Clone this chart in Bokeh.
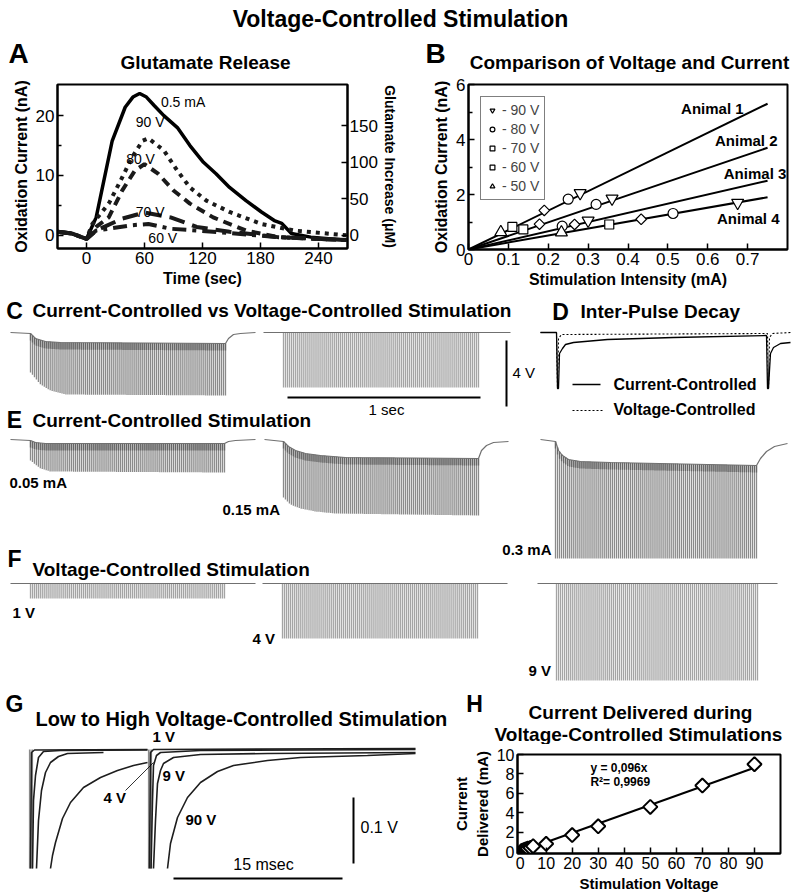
import numpy as np
from bokeh.plotting import figure
from bokeh.layouts import column, row
from bokeh.models import (Range1d, LinearAxis, Label, Legend, LegendItem,
                          FixedTicker, CustomJSTickFormatter)
from bokeh.embed import file_html
from bokeh.resources import INLINE

FONT = "Liberation Sans"

# ======================= DATA =======================
# Panel A - oxidation current (nA) vs time (s)
a_time_05mA = [-30, -15, 0, 10, 16.5, 26.6, 40, 48, 55, 62, 70, 80, 94, 107, 121, 134, 148, 165, 181, 195, 202, 212, 232, 269]
a_curr_05mA = [0.6, 0.3, -0.6, 3.0, 8.0, 15.8, 21.4, 23.1, 23.7, 23.1, 21.7, 20.0, 18.0, 15.0, 12.2, 10.3, 8.0, 5.8, 3.9, 2.4, 2.0, 0.3, -0.3, -0.8]
a_time_90V = [-30, -15, 0, 6, 23, 37, 47, 58, 64, 80, 94, 107, 124, 148, 181, 215, 269]
a_curr_90V = [0.6, 0.3, -0.6, 1.9, 5.3, 9.7, 13.0, 15.8, 16.2, 14.2, 10.8, 8.0, 5.8, 3.9, 1.9, 0.8, 0.0]
a_time_80V = [-30, -15, 0, 10, 23, 37, 50, 60, 74, 90, 107, 131, 165, 198, 269]
a_curr_80V = [0.6, 0.3, -0.6, 1.4, 3.0, 7.5, 10.8, 11.9, 10.3, 7.5, 5.3, 3.0, 0.8, -0.3, -0.8]
a_time_70V = [-30, -15, 0, 10, 37, 60, 87, 114, 148, 198, 269]
a_curr_70V = [0.6, 0.3, -0.6, 0.8, 2.8, 3.8, 3.0, 1.4, 0.6, -0.3, -0.8]
a_time_60V = [-30, -15, 0, 10, 48, 64, 87, 131, 198, 269]
a_curr_60V = [0.6, 0.3, -0.6, 0.8, 1.7, 1.9, 1.1, 0.6, -0.3, -0.8]
a_um_per_na = 8.2
a_x_ticks = [0, 60, 120, 180, 240]
a_y_ticks = [0, 10, 20]
a_glu_ticks = [0, 50, 100, 150]

# Panel B - oxidation current (nA) vs stimulation intensity (mA)
b_animals = ["Animal 1", "Animal 2", "Animal 3", "Animal 4"]
b_fit_end_x = [0.75, 0.75, 0.75, 0.75]
b_fit_end_y = [5.3, 3.7, 2.5, 1.9]
b_90V_x = [0.28, 0.36, 0.30, 0.675]
b_90V_y = [2.05, 1.85, 1.05, 1.70]
b_80V_x = [0.25, 0.32, 0.235, 0.513]
b_80V_y = [1.83, 1.64, 0.85, 1.31]
b_70V_x = [0.19, 0.178, 0.266, 0.433]
b_70V_y = [1.42, 0.92, 0.91, 1.10]
b_60V_x = [0.11, 0.1375, 0.353]
b_60V_y = [0.82, 0.73, 0.91]
b_50V_x = [0.081, 0.233]
b_50V_y = [0.63, 0.62]
b_x_ticks = [0, 0.1, 0.2, 0.3, 0.4, 0.5, 0.6, 0.7]
b_y_ticks = [0, 2, 4, 6]

# Panel H - current delivered (mA) vs stimulation voltage (V)
h_voltage = [0.5, 1, 1.5, 2, 2.5, 3, 4, 5, 10, 20, 30, 50, 70, 90]
h_current = [0.05, 0.1, 0.15, 0.2, 0.25, 0.3, 0.4, 0.55, 0.8, 1.7, 2.6, 4.6, 6.8, 9.0]
h_fit_slope = 0.096
h_fit_x = [0, 90]
h_x_ticks = [0, 10, 20, 30, 40, 50, 60, 70, 80, 90]
h_y_ticks = [0, 2, 4, 6, 8, 10]

# Trace panels C-G (canvas units = picture pixels, y grows downward), 100 pulses per 1 s train
N_PULSES = 100
# C: current-controlled (left) and voltage-controlled (right)
c_cc_line_x = [10, 30, 35, 45, 60, 225, 228, 233, 240, 255]
c_cc_line_y = [332, 333, 338, 341, 342, 343, 338, 334, 333, 332]
c_cc_span = [30, 225]
c_cc_bot_x = [30, 40, 50, 65, 225]
c_cc_bot_y = [372, 384, 390, 394, 395]
c_vc_line_x = [263, 510]
c_vc_line_y = [332, 332]
c_vc_span = [283, 478]
c_vc_bot_y = [387, 387]
# D: inter-pulse decay
d_cc_x = [540, 556, 557, 558, 559, 562, 565, 573, 607, 673, 766, 767, 768, 769, 770, 773, 780, 790]
d_cc_y = [332, 332, 388, 388, 353, 348, 344, 342, 339, 337, 335, 388, 388, 370, 353, 347, 343, 342]
d_vc_x = [540, 556, 557, 558, 561, 767, 768, 769, 772, 790]
d_vc_y = [332, 332, 388, 338, 334, 333, 388, 337, 333, 332]
# E: current-controlled stimulation at 0.05, 0.15, 0.3 mA
e1_line_x = [10, 30, 35, 45, 224, 228, 235, 255]
e1_line_y = [439, 440, 442, 443, 443, 441, 440, 439]
e1_span = [30, 224]
e1_bot_x = [30, 40, 50, 224]
e1_bot_y = [460, 468, 471, 472]
e2_line_x = [264, 283, 288, 295, 305, 320, 345, 478, 481, 486, 493, 508]
e2_line_y = [439, 441, 446, 450, 453, 455, 457, 458, 450, 445, 442, 441]
e2_span = [283, 478]
e2_bot_x = [283, 290, 300, 315, 335, 478]
e2_bot_y = [497, 504, 508, 511, 513, 515]
e3_line_x = [540, 555, 558, 562, 568, 580, 610, 756, 760, 766, 774, 787]
e3_line_y = [439, 441, 450, 455, 459, 461, 462, 465, 458, 451, 446, 443]
e3_span = [555, 756]
e3_bot_x = [555, 756]
e3_bot_y = [558, 558]
# F: voltage-controlled stimulation at 1, 4, 9 V
f1_line_x = [10, 255]
f1_span = [30, 224]
f1_depth = 598
f2_line_x = [262, 507]
f2_span = [282, 477]
f2_depth = 638
f3_line_x = [537, 777]
f3_span = [556, 757]
f3_depth = 680
f_base = 583

# G: low to high voltage pulses (two pulses, recovery traces for 1, 4, 9, 90 V)
g_spike_x = [29, 30.5, 32, 148, 149.5, 151]
g_spike_top = 749
g_spike_bot = 868
g_1V_L_x = [30, 31, 34, 147]
g_1V_L_y = [868, 752, 749.5, 749]
g_4V_L_x = [32, 33, 35, 38, 43, 60, 147]
g_4V_L_y = [868, 800, 775, 757, 751, 750, 749.5]
g_9V_L_x = [36, 38, 41, 45, 50, 58, 67, 103]
g_9V_L_y = [868, 820, 790, 772, 762, 756, 753, 752]
g_90V_L_x = [50, 52, 55, 62, 70, 83, 100, 117, 133, 147]
g_90V_L_y = [868, 855, 842, 818, 802, 787, 777, 770, 765, 762]
g_1V_R_x = [149, 150, 153, 415]
g_1V_R_y = [868, 752, 749, 748]
g_4V_R_x = [150.5, 152, 153, 156, 160, 200, 415]
g_4V_R_y = [868, 800, 765, 755, 752, 750, 749]
g_9V_R_x = [153, 155, 157, 160, 163, 173, 200, 267, 415]
g_9V_R_y = [868, 820, 783, 770, 763, 757, 754, 753, 752]
g_90V_R_x = [167, 170, 177, 187, 200, 217, 233, 267, 300, 333, 367, 415]
g_90V_R_y = [868, 843, 817, 797, 782, 771, 765, 760, 757, 756, 755, 753]


# ======================= HELPERS =======================
def txt(p, x, y, text, size, bold=True, align="left", baseline="middle"):
    p.add_layout(Label(x=x, y=y, text=text, text_font=FONT, text_font_size=f"{size}px",
                       text_font_style="bold" if bold else "normal", text_align=align,
                       text_baseline=baseline, text_color="black"))


def style_axes(p, tick_size, label_size):
    for ax in p.axis:
        ax.axis_line_width = 2
        ax.axis_line_color = "black"
        ax.major_tick_in = 6
        ax.major_tick_out = 0
        ax.minor_tick_in = 4
        ax.minor_tick_out = 0
        ax.major_tick_line_width = 1.5
        ax.minor_tick_line_width = 1.5
        ax.major_label_text_font = FONT
        ax.major_label_text_font_size = f"{tick_size}px"
        ax.major_label_text_color = "black"
        ax.major_label_standoff = 3
        ax.axis_label_text_font = FONT
        ax.axis_label_text_font_style = "bold"
        ax.axis_label_text_font_size = f"{label_size}px"
        ax.axis_label_text_color = "black"
        ax.axis_label_standoff = 3
    p.outline_line_color = "black"
    p.outline_line_width = 2
    p.grid.visible = False


def canvas(w, h, xr, yr):
    p = figure(width=w, height=h, x_range=Range1d(*xr), y_range=Range1d(*yr),
               x_axis_location=None, y_axis_location=None, output_backend="svg",
               toolbar_location=None, min_border=0)
    p.outline_line_color = None
    p.grid.visible = False
    return p


def train(p, line_x, line_y, span, bot_x, bot_y, pulse_color, band_color=None):
    px = np.linspace(span[0], span[1], N_PULSES)
    top = np.interp(px, line_x, line_y)
    bot = np.interp(px, bot_x, bot_y)
    p.segment(px, top, px, bot, line_color=pulse_color, line_width=1.3)
    if band_color:
        p.segment(px, top, px, top + 7, line_color=band_color, line_width=1.3)
    p.line(line_x, line_y, line_color="#707070", line_width=1.2)


W = 800

# ======================= TOP STRIP: main title + panel A/B titles =======================
pT = canvas(W, 72, (0, 800), (72, 0))
txt(pT, 400, 18, "Voltage-Controlled Stimulation", 23, align="center")
txt(pT, 18, 53, "A", 28, align="center")
txt(pT, 205, 62, "Glutamate Release", 19, align="center")
txt(pT, 435, 53, "B", 28, align="center")
txt(pT, 629, 62, "Comparison of Voltage and Current", 19, align="center")

# ======================= PANEL A =======================
pA = figure(width=400, height=220, x_range=Range1d(-30, 270), y_range=Range1d(-2.2, 25.2),
            output_backend="svg", toolbar_location=None,
            min_border_left=57, min_border_right=47, min_border_top=12, min_border_bottom=44)
pA.extra_y_ranges = {"glu": Range1d(-2.2 * a_um_per_na, 25.2 * a_um_per_na)}
pA.add_layout(LinearAxis(y_range_name="glu", axis_label="Glutamate Increase (μM)",
                         ticker=FixedTicker(ticks=a_glu_ticks)), "right")
pA.xaxis.ticker = FixedTicker(ticks=a_x_ticks)
pA.yaxis[0].ticker = FixedTicker(ticks=a_y_ticks, minor_ticks=[5, 15])
pA.xaxis.axis_label = "Time (sec)"
pA.yaxis[0].axis_label = "Oxidation Current (nA)"
style_axes(pA, 17, 16)
pA.yaxis[1].axis_label_standoff = 1
pA.yaxis[1].major_label_standoff = 2
pA.yaxis[1].axis_label_text_font_size = "14px"
pA.line(a_time_05mA, a_curr_05mA, line_color="black", line_width=3.5)
pA.line(a_time_90V, a_curr_90V, line_color="#1a1a1a", line_width=4, line_dash="4 5")
pA.line(a_time_80V, a_curr_80V, line_color="#1a1a1a", line_width=4, line_dash="9 6")
pA.line(a_time_70V, a_curr_70V, line_color="#1a1a1a", line_width=4, line_dash="16 8")
pA.line(a_time_60V, a_curr_60V, line_color="#1a1a1a", line_width=4, line_dash="14 6 4 6")
txt(pA, 77, 22.2, "0.5 mA", 14, bold=False)
txt(pA, 51, 18.9, "90 V", 14, bold=False)
txt(pA, 41, 12.8, "80 V", 14, bold=False)
txt(pA, 51, 3.9, "70 V", 14, bold=False)
txt(pA, 64, -0.4, "60 V", 14, bold=False)

# ======================= PANEL B =======================
pB = figure(width=400, height=220, x_range=Range1d(0, 0.8), y_range=Range1d(0, 6),
            output_backend="svg", toolbar_location=None,
            min_border_left=68, min_border_right=13, min_border_top=12, min_border_bottom=43)
pB.xaxis.ticker = FixedTicker(ticks=b_x_ticks)
pB.xaxis.formatter = CustomJSTickFormatter(code="return tick == 0 ? '0' : tick.toFixed(1);")
pB.yaxis.ticker = FixedTicker(ticks=b_y_ticks, minor_ticks=[1, 3, 5])
pB.xaxis.axis_label = "Stimulation Intensity (mA)"
pB.yaxis.axis_label = "Oxidation Current (nA)"
style_axes(pB, 17, 16)
pB.multi_line(xs=[[0, ex] for ex in b_fit_end_x], ys=[[0, ey] for ey in b_fit_end_y],
              line_color="black", line_width=2)
mk = dict(fill_color="white", line_color="black", line_width=1.2)
r90 = pB.scatter(b_90V_x, b_90V_y, marker="inverted_triangle", size=12, **mk)
r80 = pB.scatter(b_80V_x, b_80V_y, marker="circle", size=10, **mk)
r70 = pB.scatter(b_70V_x, b_70V_y, marker="square", angle=np.pi / 4, size=7.5, **mk)
r60 = pB.scatter(b_60V_x, b_60V_y, marker="square", size=9, **mk)
r50 = pB.scatter(b_50V_x, b_50V_y, marker="triangle", size=12, **mk)
leg = Legend(items=[LegendItem(label="- 90 V", renderers=[r90]),
                    LegendItem(label="- 80 V", renderers=[r80]),
                    LegendItem(label="- 70 V", renderers=[r70]),
                    LegendItem(label="- 60 V", renderers=[r60]),
                    LegendItem(label="- 50 V", renderers=[r50])],
             location="top_left", margin=12, padding=5, spacing=3,
             glyph_width=12, glyph_height=14, label_height=14, label_standoff=4,
             label_text_font=FONT, label_text_font_size="14px",
             border_line_color="black", border_line_width=1.5)
pB.add_layout(leg)
for name, lx, ly in zip(b_animals, [0.69, 0.775, 0.797, 0.78], [5.13, 3.96, 2.76, 1.13]):
    txt(pB, lx, ly, name, 15, align="right")

# ======================= PANELS C-F (+ G/H headings) =======================
pM = canvas(W, 452, (0, 800), (744, 292))
CC_COL, CC_BAND, VC_COL = "#8a8a8a", "#666666", "#a4a4a4"
# C
txt(pM, 14, 310, "C", 23, align="center")
txt(pM, 32, 310, "Current-Controlled vs Voltage-Controlled Stimulation", 19)
train(pM, c_cc_line_x, c_cc_line_y, c_cc_span, c_cc_bot_x, c_cc_bot_y, CC_COL, CC_BAND)
train(pM, c_vc_line_x, c_vc_line_y, c_vc_span, c_vc_span, c_vc_bot_y, VC_COL)
pM.line([506, 506], [340, 406], line_color="black", line_width=2)
pM.line([287, 480], [397, 397], line_color="black", line_width=2)
txt(pM, 512, 372, "4 V", 15, bold=False)
txt(pM, 386, 409, "1 sec", 15, bold=False, align="center")
# D
txt(pM, 560, 311, "D", 23, align="center")
txt(pM, 580, 311, "Inter-Pulse Decay", 19)
pM.line(d_cc_x, d_cc_y, line_color="black", line_width=1.3)
pM.line(d_vc_x, d_vc_y, line_color="black", line_width=1.1, line_dash="2 2")
pM.line([572, 600], [384, 384], line_color="black", line_width=1.3)
pM.line([572, 602], [410, 410], line_color="black", line_width=1.1, line_dash="2 2")
txt(pM, 613, 384, "Current-Controlled", 16)
txt(pM, 613, 409, "Voltage-Controlled", 16)
# E
txt(pM, 14, 419, "E", 23, align="center")
txt(pM, 32, 420, "Current-Controlled Stimulation", 19)
train(pM, e1_line_x, e1_line_y, e1_span, e1_bot_x, e1_bot_y, CC_COL, CC_BAND)
train(pM, e2_line_x, e2_line_y, e2_span, e2_bot_x, e2_bot_y, CC_COL, CC_BAND)
train(pM, e3_line_x, e3_line_y, e3_span, e3_bot_x, e3_bot_y, CC_COL, CC_BAND)
txt(pM, 9, 482, "0.05 mA", 15)
txt(pM, 222, 509, "0.15 mA", 15)
txt(pM, 551, 549, "0.3 mA", 15, align="right")
# F
txt(pM, 14, 558, "F", 23, align="center")
txt(pM, 32, 569, "Voltage-Controlled Stimulation", 19)
for lx, sp, dp in [(f1_line_x, f1_span, f1_depth), (f2_line_x, f2_span, f2_depth), (f3_line_x, f3_span, f3_depth)]:
    train(pM, lx, [f_base, f_base], sp, sp, [dp, dp], VC_COL)
txt(pM, 12, 612, "1 V", 15)
txt(pM, 252, 638, "4 V", 15)
txt(pM, 528, 670, "9 V", 15)
# G / H headings
txt(pM, 14, 703, "G", 23, align="center")
txt(pM, 35, 718, "Low to High Voltage-Controlled Stimulation", 20)
txt(pM, 152, 736, "1 V", 15)
txt(pM, 474, 703, "H", 23, align="center")
txt(pM, 640, 712, "Current Delivered during", 19, align="center")
txt(pM, 638, 734, "Voltage-Controlled Stimulations", 19, align="center")

# ======================= PANEL G traces =======================
pG = canvas(448, 150, (0, 448), (894, 744))
pG.segment(g_spike_x, [g_spike_top] * len(g_spike_x), g_spike_x, [g_spike_bot] * len(g_spike_x),
           line_color="#8a8a8a", line_width=1.2)
for gx, gy in [(g_1V_L_x, g_1V_L_y), (g_4V_L_x, g_4V_L_y), (g_9V_L_x, g_9V_L_y), (g_90V_L_x, g_90V_L_y),
               (g_1V_R_x, g_1V_R_y), (g_4V_R_x, g_4V_R_y), (g_9V_R_x, g_9V_R_y), (g_90V_R_x, g_90V_R_y)]:
    pG.line(gx, gy, line_color="#1e1e1e", line_width=1.6)
pG.line([125, 153], [790, 762], line_color="black", line_width=0.8)
pG.line([353, 353], [797, 863], line_color="black", line_width=2)
pG.line([173, 342], [878, 878], line_color="black", line_width=2)
txt(pG, 162, 775, "9 V", 15)
txt(pG, 103, 797, "4 V", 15)
txt(pG, 185, 819, "90 V", 15)
txt(pG, 360, 827, "0.1 V", 16, bold=False)
txt(pG, 263, 864, "15 msec", 16, bold=False, align="center")

# ======================= PANEL H =======================
pH = figure(width=W - 448, height=150, x_range=Range1d(-1, 100), y_range=Range1d(-0.2, 10),
            output_backend="svg", toolbar_location=None,
            min_border_left=69, min_border_right=20, min_border_top=10, min_border_bottom=41)
pH.xaxis.ticker = FixedTicker(ticks=h_x_ticks)
pH.yaxis.ticker = FixedTicker(ticks=h_y_ticks)
pH.xaxis.axis_label = "Stimulation Voltage"
pH.yaxis.axis_label = "Current\nDelivered (mA)"
style_axes(pH, 16, 15)
pH.line(h_fit_x, [h_fit_slope * v for v in h_fit_x], line_color="black", line_width=2)
pH.scatter(h_voltage, h_current, marker="square", angle=np.pi / 4, size=10,
           fill_color="white", line_color="black", line_width=2)
txt(pH, 27, 8.56, "y = 0,096x", 12)
txt(pH, 27, 7.2, "R²= 0,9969", 12)

# each plot wrapped in its own column so rows do not align the plot frames
layout = column(pT, row(column(pA), column(pB)), pM, row(column(pG), column(pH)))
open("out.html", "w").write(file_html(layout, INLINE))
